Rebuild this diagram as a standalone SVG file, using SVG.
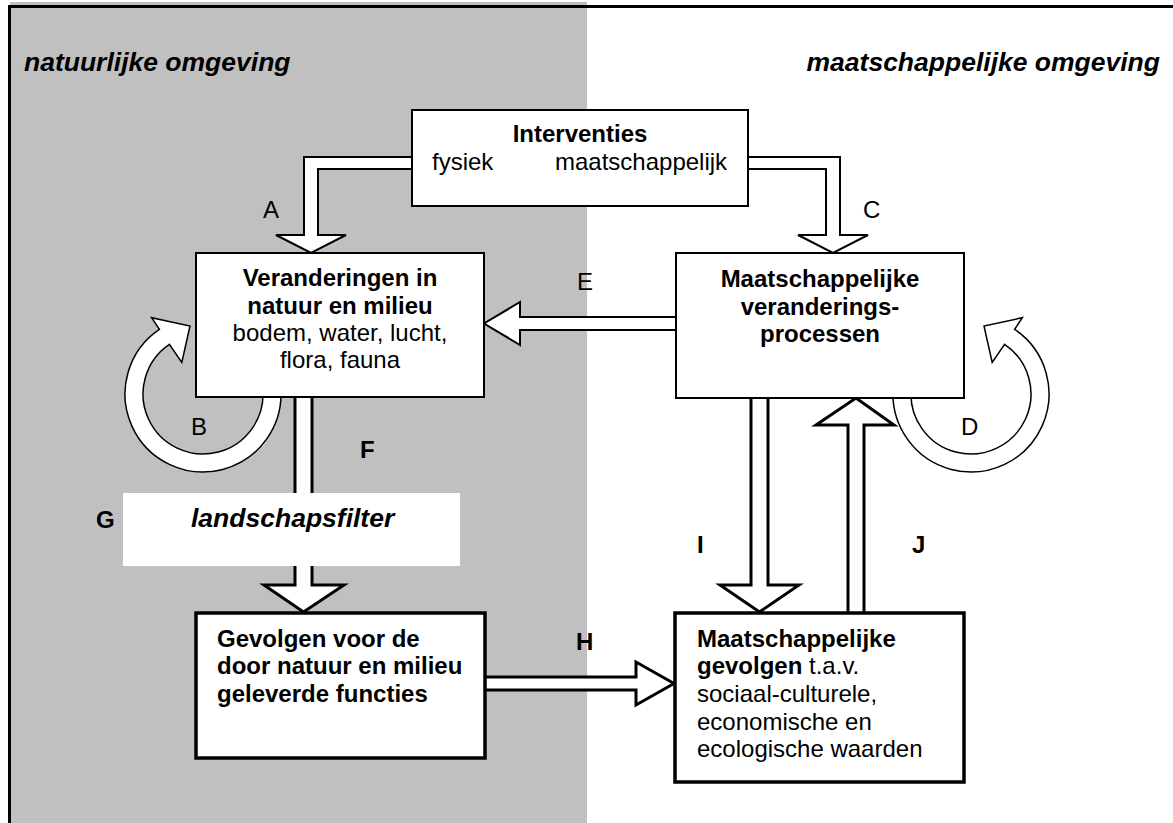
<svg xmlns="http://www.w3.org/2000/svg" width="1173" height="823" viewBox="0 0 1173 823">
<style>
text{font-family:"Liberation Sans",Arial,Helvetica,sans-serif;fill:#000}
.hd{font-size:26.5px;font-weight:bold;font-style:italic}
.t{font-size:24px}
.b{font-weight:bold}
.box{fill:#fff;stroke:#000;stroke-width:2}
.boxk{fill:#fff;stroke:#000;stroke-width:3.5}
.arr{fill:#fff;stroke:#000;stroke-width:2;stroke-linejoin:miter}
.arrk{fill:#fff;stroke:#000;stroke-width:3;stroke-linejoin:miter}
.ring{fill:#fff;stroke:#000;stroke-width:1.5}
</style>
<rect x="0" y="0" width="1173" height="823" fill="#fff"/>
<rect x="10" y="2" width="577" height="821" fill="#c0c0c0"/>
<g id="frame" stroke="#000" fill="none">
<line x1="8" y1="6.5" x2="1173" y2="6.5" stroke-width="3"/>
<line x1="9.5" y1="5" x2="9.5" y2="823" stroke-width="3"/>
</g>
<g id="headers">
<text class="hd" x="24" y="71">natuurlijke omgeving</text>
<text class="hd" x="1160" y="71" text-anchor="end">maatschappelijke omgeving</text>
</g>
<g id="connectors">
<path id="B-loop" class="ring" d="M280.7,387.2 A78,78 0 1,1 159.4,329.3 L151.6,317.7 L190,326 L181.8,362.5 L169.4,344.3 A60,60 0 1,0 262.8,388.8 Z"/>
<path id="D-loop" class="ring" transform="translate(1174,0) scale(-1,1)" d="M280.7,387.2 A78,78 0 1,1 159.4,329.3 L151.6,317.7 L190,326 L181.8,362.5 L169.4,344.3 A60,60 0 1,0 262.8,388.8 Z"/>
<path id="A" class="arr" d="M413,157 L304,157 L304,235 L276,235 L311,253 L346,235 L318,235 L318,169 L413,169"/>
<path id="C" class="arr" d="M747,157 L840,157 L840,235 L868,235 L833,253 L798,235 L826,235 L826,169 L747,169"/>
<path id="E" class="arr" d="M677,317 L520,317 L520,302 L484,323.5 L520,345 L520,330 L677,330"/>
<path id="F" class="arrk" d="M295,396 L295,585 L264,585 L303.5,612 L344,585 L312,585 L312,396"/>
<path id="I" class="arrk" d="M751,397 L751,585 L720,585 L759.5,612 L799,585 L768,585 L768,397"/>
<path id="J" class="arrk" d="M848,614 L848,425 L816,425 L856,398 L894,425 L864,425 L864,614"/>
<path id="H" class="arrk" d="M484,677 L636,677 L636,662 L674,683.5 L636,705 L636,690 L484,690"/>
</g>
<g id="interventies">
<rect class="box" x="412" y="110" width="336" height="96"/>
<text class="t b" x="580" y="142" text-anchor="middle">Interventies</text>
<text class="t" x="432" y="170">fysiek</text>
<text class="t" x="555" y="170">maatschappelijk</text>
</g>
<g id="veranderingen">
<rect class="box" x="196" y="253" width="288" height="144"/>
<text class="t b" x="340" y="286" text-anchor="middle">Veranderingen in</text>
<text class="t b" x="340" y="314" text-anchor="middle">natuur en milieu</text>
<text class="t" x="340" y="341" text-anchor="middle">bodem, water, lucht,</text>
<text class="t" x="340" y="368" text-anchor="middle">flora, fauna</text>
</g>
<g id="processen">
<rect class="box" x="676" y="253" width="288" height="145"/>
<text class="t b" x="820" y="287" text-anchor="middle">Maatschappelijke</text>
<text class="t b" x="820" y="315" text-anchor="middle">veranderings-</text>
<text class="t b" x="820" y="342" text-anchor="middle">processen</text>
</g>
<g id="landschapsfilter">
<rect x="123" y="493" width="337" height="73" fill="#fff"/>
<text class="hd" x="191" y="527">landschapsfilter</text>
</g>
<g id="gevolgen">
<rect class="boxk" x="196" y="613" width="289" height="145"/>
<text class="t b" x="217" y="647">Gevolgen voor de</text>
<text class="t b" x="217" y="674">door natuur en milieu</text>
<text class="t b" x="217" y="702">geleverde functies</text>
</g>
<g id="maatschappelijke-gevolgen">
<rect class="boxk" x="675" y="613" width="289" height="169"/>
<text class="t" x="697" y="647"><tspan class="b">Maatschappelijke</tspan></text>
<text class="t" x="697" y="674"><tspan class="b">gevolgen</tspan> t.a.v.</text>
<text class="t" x="697" y="702">sociaal-culturele,</text>
<text class="t" x="697" y="730">economische en</text>
<text class="t" x="697" y="757">ecologische waarden</text>
</g>
<g id="labels">
<text class="t" x="263" y="218">A</text>
<text class="t" x="863" y="218">C</text>
<text class="t" x="577" y="290">E</text>
<text class="t" x="191" y="435">B</text>
<text class="t" x="961" y="435">D</text>
<text class="t b" x="360" y="458">F</text>
<text class="t b" x="96" y="528">G</text>
<text class="t b" x="576" y="650">H</text>
<text class="t b" x="697" y="553">I</text>
<text class="t b" x="912" y="553">J</text>
</g>
</svg>
